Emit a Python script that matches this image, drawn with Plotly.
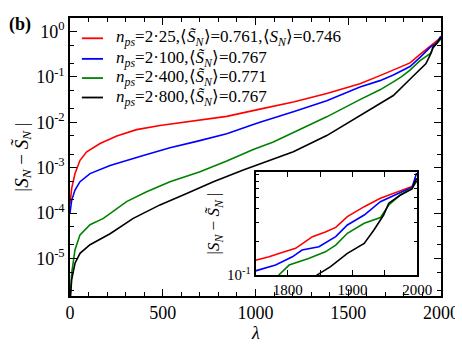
import plotly.graph_objects as go

# ---- main panel data (lambda, |S_N - S~_N|) ----
x_red = [0, 4, 9, 27, 54, 90, 162, 252, 359, 485, 665, 845, 1024, 1204, 1384, 1563, 1671, 1743, 1833, 1887, 1941, 1977, 1999]
y_red = [1.58e-4, 2.5e-4, 3.5e-4, 7.4e-4, 1.45e-3, 2.24e-3, 3.4e-3, 5.0e-3, 6.9e-3, 8.5e-3, 1.07e-2, 1.35e-2, 1.95e-2,
         2.8e-2, 4.3e-2, 7.1e-2, 0.107, 0.141, 0.204, 0.316, 0.479, 0.603, 0.741]

x_blue = [0, 9, 27, 54, 108, 216, 395, 539, 683, 845, 988, 1024, 1204, 1384, 1563, 1671, 1743, 1833, 1887, 1941, 1977, 1999]
y_blue = [1.0e-4, 1.9e-4, 3.2e-4, 4.9e-4, 7.4e-4, 1.12e-3, 1.86e-3, 2.75e-3, 3.8e-3, 5.6e-3, 8.9e-3, 1.0e-2, 1.7e-2,
          3.0e-2, 6.0e-2, 8.3e-2, 0.11, 0.17, 0.27, 0.45, 0.56, 0.79]

x_green = [0, 4, 9, 27, 54, 108, 180, 305, 413, 539, 701, 845, 988, 1096, 1204, 1384, 1563, 1671, 1743, 1786, 1833,
           1887, 1943, 1956, 1977, 1999]
y_green = [1.2e-6, 3.2e-6, 4.7e-6, 1.55e-5, 3.3e-5, 5.5e-5, 7.6e-5, 1.78e-4, 2.95e-4, 4.9e-4, 8.1e-4, 1.4e-3, 2.5e-3,
           3.7e-3, 5.9e-3, 1.32e-2, 3.16e-2, 5.2e-2, 7.8e-2, 0.1, 0.141, 0.229, 0.331, 0.427, 0.55, 0.69]

x_black = [0, 4, 9, 27, 54, 108, 216, 341, 485, 629, 773, 934, 1060, 1204, 1384, 1563, 1671, 1743, 1845, 1874, 1918,
           1933, 1948, 1956, 1977, 1999]
y_black = [1.0e-6, 2.0e-6, 3.4e-6, 7.8e-6, 1.29e-5, 2.0e-5, 3.5e-5, 7.6e-5, 1.51e-4, 2.7e-4, 4.9e-4, 8.9e-4, 1.35e-3,
           2.24e-3, 5.1e-3, 1.41e-2, 2.57e-2, 3.9e-2, 0.1, 0.132, 0.195, 0.257, 0.347, 0.447, 0.55, 0.74]

# ---- inset data (zoom on the last 250 states) ----
xi_red = [1750, 1771, 1791, 1812, 1827, 1838, 1858, 1874, 1892, 1918, 1943, 1964, 1979, 1992, 1999]
yi_red = [0.136, 0.146, 0.160, 0.174, 0.200, 0.222, 0.245, 0.269, 0.337, 0.414, 0.493, 0.547, 0.586, 0.631, 0.746]
xi_blue = [1750, 1781, 1807, 1822, 1848, 1874, 1892, 1918, 1943, 1964, 1979, 1992, 1999]
yi_blue = [0.109, 0.123, 0.146, 0.168, 0.180, 0.222, 0.283, 0.348, 0.459, 0.528, 0.574, 0.617, 0.832]
xi_green = [1775, 1786, 1802, 1832, 1858, 1874, 1892, 1918, 1943, 1956, 1974, 1992, 1999]
yi_green = [0.089, 0.100, 0.123, 0.141, 0.162, 0.186, 0.238, 0.293, 0.330, 0.429, 0.528, 0.607, 0.697]
xi_black = [1835, 1845, 1866, 1892, 1918, 1933, 1948, 1956, 1974, 1992, 1999]
yi_black = [0.087, 0.100, 0.119, 0.157, 0.193, 0.255, 0.348, 0.445, 0.528, 0.598, 0.746]

# tick labels
y_tickvals = [1e-5, 1e-4, 1e-3, 1e-2, 1e-1, 1]
y_ticktext = ["10<sup>-5</sup>", "10<sup>-4</sup>", "10<sup>-3</sup>", "10<sup>-2</sup>", "10<sup>-1</sup>", "10<sup>0</sup>"]
yi_tickvals = [0.1]
yi_ticktext = ["10<sup>-1</sup>"]

labels = [
    "<i>n</i><sub><i>ps</i></sub>=2·25,⟨<i>S̃</i><sub><i>N</i></sub>⟩=0.761,⟨<i>S</i><sub><i>N</i></sub>⟩=0.746",
    "<i>n</i><sub><i>ps</i></sub>=2·100,⟨<i>S̃</i><sub><i>N</i></sub>⟩=0.767",
    "<i>n</i><sub><i>ps</i></sub>=2·400,⟨<i>S̃</i><sub><i>N</i></sub>⟩=0.771",
    "<i>n</i><sub><i>ps</i></sub>=2·800,⟨<i>S̃</i><sub><i>N</i></sub>⟩=0.767",
]
colors = ["#ff0000", "#0000ff", "#008000", "#000000"]
ylab = "|<i>S</i><sub><i>N</i></sub> − <i>S̃</i><sub><i>N</i></sub> |"

SERIF = "Liberation Serif"

fig = go.Figure()
main = [(x_red, y_red), (x_blue, y_blue), (x_green, y_green), (x_black, y_black)]
for (xs, ys), c in zip(main, colors):
    fig.add_trace(go.Scatter(x=xs, y=ys, mode="lines", line=dict(color=c, width=1.6), showlegend=False,
                             xaxis="x", yaxis="y"))

inset = [(xi_red, yi_red), (xi_blue, yi_blue), (xi_green, yi_green), (xi_black, yi_black)]
for (xs, ys), c in zip(inset, colors):
    fig.add_trace(go.Scatter(x=xs, y=ys, mode="lines", line=dict(color=c, width=1.6), showlegend=False,
                             xaxis="x2", yaxis="y2"))

# legend drawn by hand (tighter rows than plotly's own legend)
leg_y = [0.927, 0.853, 0.784, 0.714]
for c, lab, yy in zip(colors, labels, leg_y):
    fig.add_shape(type="line", xref="paper", yref="paper", x0=0.032, x1=0.089, y0=yy, y1=yy,
                  line=dict(color=c, width=1.8))
    fig.add_annotation(text=lab, xref="paper", yref="paper", x=0.118, y=yy, xanchor="left", yanchor="middle",
                       showarrow=False, font=dict(family=SERIF, size=17))

axis_common = dict(showgrid=False, zeroline=False, showline=True, linecolor="black", linewidth=1.5,
                   mirror="allticks", ticks="inside", tickcolor="black", tickwidth=1.2, automargin=False,
                   ticklabeloverflow="allow")

# page body keeps an 8px margin at top/left
fig.update_layout(
    width=455, height=333,
    margin=dict(l=62, r=22, t=10, b=45),
    paper_bgcolor="white", plot_bgcolor="white",
    font=dict(family=SERIF, color="black", size=17),
    xaxis=dict(axis_common, range=[0, 2000], dtick=500, ticklen=7,
               minor=dict(ticks="inside", dtick=100, ticklen=4, tickcolor="black"),
               tickfont=dict(size=18)),
    yaxis=dict(axis_common, type="log", range=[-5.83, 0.30], tickvals=y_tickvals, ticktext=y_ticktext, ticklen=7,
               minor=dict(ticks="inside", ticklen=4, tickcolor="black"),
               tickfont=dict(size=18), title=dict(text=ylab, font=dict(size=19), standoff=3)),
    xaxis2=dict(axis_common, domain=[0.50, 0.936], anchor="y2", range=[1750, 2000], dtick=100, ticklen=5,
                minor=dict(ticks="inside", dtick=50, ticklen=5, tickcolor="black"),
                tickfont=dict(size=15)),
    yaxis2=dict(axis_common, domain=[0.0755, 0.446], anchor="x2", type="log", range=[-1, -0.07],
                tickvals=yi_tickvals, ticktext=yi_ticktext, ticklen=6,
                minor=dict(ticks="inside", ticklen=4, tickcolor="black",
                           tickvals=[0.2, 0.3, 0.4, 0.5, 0.6, 0.7, 0.8]),
                tickfont=dict(size=15), title=dict(text=ylab, font=dict(size=17), standoff=3)),
    showlegend=False,
)

fig.add_annotation(text="<i>λ</i>", xref="paper", yref="paper", x=0.5, y=-0.132,
                   xanchor="center", yanchor="middle", showarrow=False, font=dict(size=18))
fig.add_annotation(text="<b>(b)</b>", xref="paper", yref="paper", x=-0.17, y=0.975,
                   xanchor="left", yanchor="middle", showarrow=False, font=dict(size=18))

fig.write_html("out.html")
